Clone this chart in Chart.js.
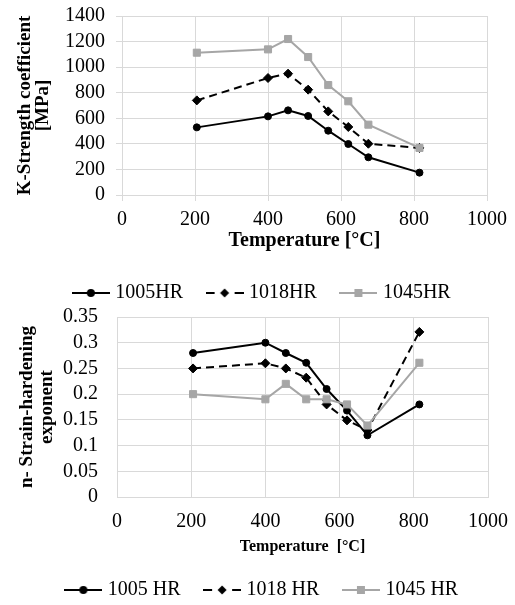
<!DOCTYPE html>
<html>
<head>
<meta charset="utf-8">
<script src="https://cdn.jsdelivr.net/npm/chart.js@4.4.1/dist/chart.umd.min.js"></script>
<style>
  html, body { margin: 0; padding: 0; background: #fff; overflow: hidden; }
  #page { position: relative; width: 515px; height: 605px; overflow: hidden; }
  .box { position: absolute; left: 0; width: 515px; }
</style>
</head>
<body>
<div id="page">
  <div class="box" style="top:0;height:313px"><canvas id="kChart"></canvas></div>
  <div class="box" style="top:305px;height:305px"><canvas id="nChart"></canvas></div>
</div>
<script>
// test temperatures, degC
const temps = [205, 400, 455, 510, 565, 620, 675, 815];

// K - strength coefficient, MPa
const k1005 = [529, 615, 662, 618, 503, 399, 295, 175];
const k1018 = [740, 915, 949, 824, 654, 532, 401, 368];
const k1045 = [1113, 1139, 1220, 1079, 860, 733, 550, 368];

// n - strain hardening exponent
const n1005 = [0.28, 0.30, 0.28, 0.261, 0.21, 0.168, 0.12, 0.18];
const n1018 = [0.25, 0.26, 0.25, 0.232, 0.18, 0.149, 0.13, 0.321];
const n1045 = [0.20, 0.19, 0.22, 0.19, 0.19, 0.18, 0.139, 0.261];

const tempTicks = [0, 200, 400, 600, 800, 1000];
const kTicks = [0, 200, 400, 600, 800, 1000, 1200, 1400];
const nTicks = [0, 0.05, 0.1, 0.15, 0.2, 0.25, 0.3, 0.35];

const BLACK = '#000000';
const GREY = '#a6a6a6';
const GRID = '#d9d9d9';

Chart.defaults.font.family = '"Liberation Serif", "Times New Roman", serif';
Chart.defaults.font.size = 20;
Chart.defaults.color = '#000';

const fmt = v => String(+v.toFixed(2));

// excel draws later series on top, so the grey one gets the lowest order
function series(label, values, color, style, dashed, order) {
  return {
    label: label,
    data: temps.map((t, i) => ({ x: t, y: values[i] })),
    order: order,
    borderColor: color,
    backgroundColor: color,
    borderWidth: 2,
    borderDash: dashed ? [8, 5] : [],
    pointStyle: style,
    pointRadius: style === 'circle' ? 3.5 : (style === 'rect' ? 5 : 4.5),
    pointBorderWidth: 1,
    pointBackgroundColor: color,
    pointBorderColor: color,
    tension: 0
  };
}

// little line + marker picture for the legend
function legendIcon(ds) {
  const c = document.createElement('canvas');
  c.width = 38;
  c.height = 14;
  const ctx = c.getContext('2d');
  ctx.strokeStyle = ds.borderColor;
  ctx.fillStyle = ds.borderColor;
  ctx.lineWidth = 2;
  ctx.setLineDash(ds.borderDash.length ? [9, 20] : []);
  ctx.beginPath();
  ctx.moveTo(0, 7);
  ctx.lineTo(38, 7);
  ctx.stroke();
  ctx.setLineDash([]);
  ctx.beginPath();
  if (ds.pointStyle === 'circle') {
    ctx.arc(19, 7, 4, 0, Math.PI * 2);
  } else if (ds.pointStyle === 'rect') {
    ctx.rect(15, 3, 8, 8);
  } else {
    ctx.moveTo(19, 2.5);
    ctx.lineTo(23.5, 7);
    ctx.lineTo(19, 11.5);
    ctx.lineTo(14.5, 7);
    ctx.closePath();
  }
  ctx.fill();
  return c;
}

function makeChart(id, p) {
  return new Chart(document.getElementById(id), {
    type: 'line',
    data: { datasets: p.datasets },
    options: {
      animation: false,
      responsive: true,
      maintainAspectRatio: false,
      layout: { padding: { left: 12, right: 0, top: p.top, bottom: 0 } },
      plugins: {
        tooltip: { enabled: false },
        legend: {
          position: 'bottom',
          labels: {
            usePointStyle: true,
            pointStyleWidth: 29,
            padding: 27,
            font: { size: 20 },
            color: '#000',
            generateLabels: chart => chart.data.datasets.map((ds, i) => ({
              text: ds.label,
              datasetIndex: i,
              pointStyle: legendIcon(ds),
              hidden: false,
              lineWidth: 0,
              fontColor: '#000'
            }))
          }
        }
      },
      scales: {
        x: {
          type: 'linear',
          min: 0,
          max: 1000,
          afterBuildTicks: s => { s.ticks = tempTicks.map(v => ({ value: v })); },
          afterFit: s => { s.height = p.xHeight; s.paddingRight = p.right; },
          grid: { color: GRID, drawTicks: p.drawTicks, tickLength: 6 },
          border: { color: GRID },
          ticks: { font: { size: 20, lineHeight: 1 }, padding: p.xPad, autoSkip: false, maxRotation: 0, callback: fmt },
          title: {
            display: true,
            text: p.xTitle,
            font: { size: p.xTitleSize, weight: 'bold', lineHeight: 1 },
            padding: { top: 0, bottom: p.xTitlePad }
          }
        },
        y: {
          min: 0,
          max: p.yTicks[p.yTicks.length - 1],
          afterBuildTicks: s => { s.ticks = p.yTicks.map(v => ({ value: v })); },
          afterFit: s => { s.width = p.yWidth; s.paddingTop = 0; s.paddingBottom = 0; },
          grid: { color: GRID, drawTicks: p.drawTicks, tickLength: 6 },
          border: { color: GRID },
          ticks: { font: { size: 20 }, padding: p.yPad, autoSkip: false, callback: fmt },
          title: {
            display: true,
            text: p.yTitle,
            font: { size: 19, weight: 'bold', lineHeight: p.yTitleLH },
            padding: { top: p.yTitlePad, bottom: 0 }
          }
        }
      }
    }
  });
}

makeChart('kChart', {
  datasets: [
    series('1005HR', k1005, BLACK, 'circle', false, 3),
    series('1018HR', k1018, BLACK, 'rectRot', true, 2),
    series('1045HR', k1045, GREY, 'rect', false, 1)
  ],
  top: 16, right: 28, drawTicks: true,
  xHeight: 61, xPad: 9, xTitle: 'Temperature [°C]', xTitleSize: 20, xTitlePad: 5,
  yTicks: kTicks, yWidth: 110, yPad: 11,
  yTitle: ['K-Strength coefficient', '[MPa]'], yTitleLH: 18 / 19, yTitlePad: 4
});

makeChart('nChart', {
  datasets: [
    series('1005 HR', n1005, BLACK, 'circle', false, 3),
    series('1018 HR', n1018, BLACK, 'rectRot', true, 2),
    series('1045 HR', n1045, GREY, 'rect', false, 1)
  ],
  top: 12, right: 27, drawTicks: false,
  xHeight: 56, xPad: 15, xTitle: 'Temperature  [°C]', xTitleSize: 16, xTitlePad: -2,
  yTicks: nTicks, yWidth: 105, yPad: 19,
  yTitle: ['n- Strain-hardening', 'exponent'], yTitleLH: 20 / 19, yTitlePad: 5
});
</script>
</body>
</html>
